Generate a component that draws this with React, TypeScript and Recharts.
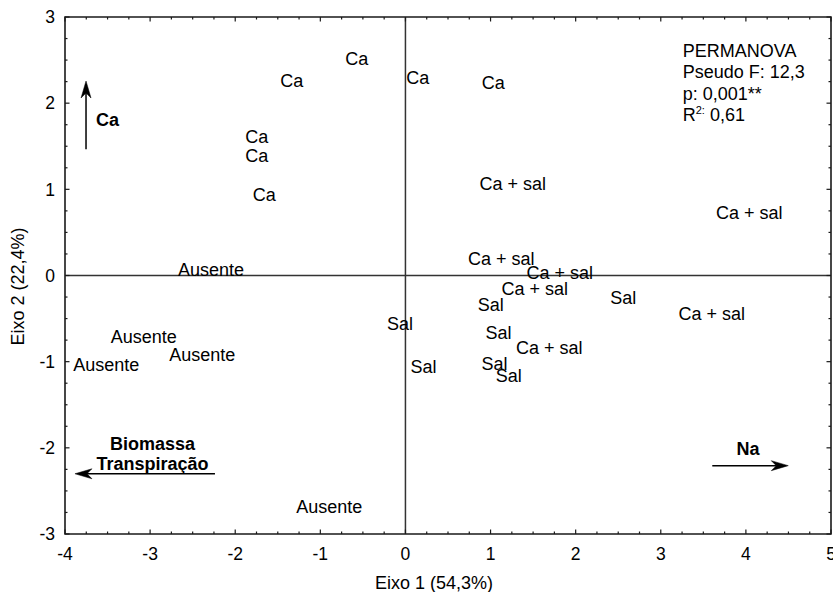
import React from 'react';
import { ScatterChart, Scatter, XAxis, YAxis, ReferenceLine, ReferenceArea } from 'recharts';

const FONT = '"Liberation Sans", Arial, Helvetica, sans-serif';
const W = 833;
const H = 592;
const PLOT_LEFT = 65;
const PLOT_TOP = 17;
const PLOT_RIGHT_GAP = 2;
const PLOT_BOTTOM_GAP = 58;
const PLOT_W = W - PLOT_LEFT - PLOT_RIGHT_GAP;
const PLOT_H = H - PLOT_TOP - PLOT_BOTTOM_GAP;

// Sample scores (Eixo 1, Eixo 2)
const caPoints = [
  { x: -0.573, y: 2.513 },
  { x: -1.336, y: 2.257 },
  { x: 0.144, y: 2.292 },
  { x: 1.032, y: 2.242 },
  { x: -1.748, y: 1.616 },
  { x: -1.748, y: 1.395 },
  { x: -1.658, y: 0.942 },
];
const caSalPoints = [
  { x: 1.261, y: 1.07 },
  { x: 4.039, y: 0.731 },
  { x: 1.126, y: 0.197 },
  { x: 1.813, y: 0.029 },
  { x: 1.519, y: -0.154 },
  { x: 3.598, y: -0.439 },
  { x: 1.689, y: -0.839 },
];
const salPoints = [
  { x: 1.003, y: -0.339 },
  { x: 2.559, y: -0.261 },
  { x: -0.064, y: -0.555 },
  { x: 1.093, y: -0.667 },
  { x: 0.212, y: -1.058 },
  { x: 1.046, y: -1.025 },
  { x: 1.214, y: -1.16 },
];
const ausentePoints = [
  { x: -2.285, y: 0.072 },
  { x: -3.075, y: -0.706 },
  { x: -2.388, y: -0.923 },
  { x: -3.515, y: -1.039 },
  { x: -0.895, y: -2.678 },
];

// Vectors (arrows) and their labels
const vectorSegments = [
  { name: 'Ca', x1: -3.753, y1: 1.465, x2: -3.753, y2: 2.257 },
  { name: 'Biomassa', x1: -2.238, y1: -2.301, x2: -3.883, y2: -2.301 },
  { name: 'Na', x1: 3.605, y1: -2.207, x2: 4.498, y2: -2.207 },
];
const vectorLabels = [
  { x: -3.501, y: 1.808, label: 'Ca' },
  { x: -2.972, y: -1.947, label: 'Biomassa' },
  { x: -2.972, y: -2.179, label: 'Transpiração' },
  { x: 4.025, y: -2.005, label: 'Na' },
];

// PERMANOVA annotation
const statsAnchor = [{ x: 3.258, y: 2.617 }];
const statsLines = ['PERMANOVA', 'Pseudo F: 12,3', 'p: 0,001**'];
const r2Value = '0,61';

const xAxisTitle = 'Eixo 1 (54,3%)';
const yAxisTitle = 'Eixo 2 (22,4%)';

const xTicks: number[] = [];
for (let i = -16; i <= 20; i++) xTicks.push(i / 4);
const yTicks: number[] = [];
for (let i = -12; i <= 12; i++) yTicks.push(i / 4);

const AXIS_COLOR = '#1a1a1a';
const LABEL_SIZE = 18;
const TICK_SIZE = 17.5;

const XTick = (props: any) => {
  const { x, y, payload, index } = props;
  const v = payload.value as number;
  const major = Number.isInteger(v);
  const len = major ? 4.5 : 2.5;
  return (
    <g>
      <line x1={x} y1={y} x2={x} y2={y - len} stroke={AXIS_COLOR} strokeWidth={1.2} />
      <line x1={x} y1={y - PLOT_H} x2={x} y2={y - PLOT_H + len} stroke={AXIS_COLOR} strokeWidth={1.2} />
      {major && (
        <text x={x} y={y + 20} dy="0.355em" textAnchor="middle" fontFamily={FONT} fontSize={TICK_SIZE} fill="#000">
          {String(v)}
        </text>
      )}
      {index === 0 && (
        <text
          x={x + PLOT_W / 2 - 14}
          y={y + 49}
          dy="0.355em"
          textAnchor="middle"
          fontFamily={FONT}
          fontSize={LABEL_SIZE}
          fill="#000"
        >
          {xAxisTitle}
        </text>
      )}
    </g>
  );
};

const YTick = (props: any) => {
  const { x, y, payload, index } = props;
  const v = payload.value as number;
  const major = Number.isInteger(v);
  const len = major ? 4.5 : 2.5;
  const cx = x - 47.5;
  const cy = y - PLOT_H / 2 + 11;
  return (
    <g>
      <line x1={x} y1={y} x2={x + len} y2={y} stroke={AXIS_COLOR} strokeWidth={1.2} />
      <line x1={x + PLOT_W} y1={y} x2={x + PLOT_W - len} y2={y} stroke={AXIS_COLOR} strokeWidth={1.2} />
      {major && (
        <text x={x - 10} y={y} dy="0.355em" textAnchor="end" fontFamily={FONT} fontSize={TICK_SIZE} fill="#000">
          {String(v)}
        </text>
      )}
      {index === 0 && (
        <text
          x={cx}
          y={cy}
          dy="0.355em"
          textAnchor="middle"
          transform={`rotate(-90 ${cx} ${cy})`}
          fontFamily={FONT}
          fontSize={LABEL_SIZE}
          fill="#000"
        >
          {yAxisTitle}
        </text>
      )}
    </g>
  );
};

const makeTextShape = (text: string) => (props: any) => (
  <text
    x={props.cx}
    y={props.cy}
    dy="0.355em"
    textAnchor="middle"
    fontFamily={FONT}
    fontSize={LABEL_SIZE}
    fill="#000"
  >
    {text}
  </text>
);

const vectorLabelShape = (props: any) => (
  <text
    x={props.cx}
    y={props.cy}
    dy="0.355em"
    textAnchor="middle"
    fontFamily={FONT}
    fontSize={LABEL_SIZE}
    fontWeight="bold"
    fill="#000"
  >
    {props.payload?.label}
  </text>
);

const statsShape = (props: any) => {
  const x = props.cx;
  const y0 = props.cy + 6.5;
  const step = 21.5;
  return (
    <g fontFamily={FONT} fontSize={LABEL_SIZE} fill="#000">
      {statsLines.map((s, i) => (
        <text key={i} x={x} y={y0 + i * step}>
          {s}
        </text>
      ))}
      <text x={x} y={y0 + 3 * step}>
        R
        <tspan fontSize={11} dy={-7}>
          2:
        </tspan>
        <tspan dy={7}> {r2Value}</tspan>
      </text>
    </g>
  );
};

const arrowShape = (props: any) => {
  const { x1, y1, x2, y2 } = props;
  if ([x1, y1, x2, y2].some((v) => typeof v !== 'number' || isNaN(v))) return <g />;
  const dx = x2 - x1;
  const dy = y2 - y1;
  const L = Math.sqrt(dx * dx + dy * dy) || 1;
  const ux = dx / L;
  const uy = dy / L;
  const px = -uy;
  const py = ux;
  const headLen = 17;
  const halfW = 5;
  const notch = 12;
  const bx = x2 - ux * headLen;
  const by = y2 - uy * headLen;
  const nx = x2 - ux * notch;
  const ny = y2 - uy * notch;
  const pts = [
    [x2, y2],
    [bx + px * halfW, by + py * halfW],
    [nx, ny],
    [bx - px * halfW, by - py * halfW],
  ]
    .map((p) => p.join(','))
    .join(' ');
  return (
    <g>
      <line x1={x1} y1={y1} x2={nx} y2={ny} stroke="#000" strokeWidth={1.5} />
      <polygon points={pts} fill="#000" stroke="#000" strokeWidth={0.5} />
    </g>
  );
};

export default function App() {
  return (
    <div style={{ position: 'absolute', left: 0, top: 0, background: '#fff' }}>
      <ScatterChart width={W} height={H} margin={{ top: PLOT_TOP, right: PLOT_RIGHT_GAP, bottom: 0, left: 0 }}>
        <XAxis
          type="number"
          dataKey="x"
          domain={[-4, 5]}
          ticks={xTicks}
          interval={0}
          height={PLOT_BOTTOM_GAP}
          tickSize={0}
          tickMargin={0}
          axisLine={false}
          tickLine={false}
          tick={XTick}
        />
        <YAxis
          type="number"
          dataKey="y"
          domain={[-3, 3]}
          ticks={yTicks}
          interval={0}
          width={PLOT_LEFT}
          tickSize={0}
          tickMargin={0}
          axisLine={false}
          tickLine={false}
          tick={YTick}
        />
        <ReferenceArea x1={-4} x2={5} y1={-3} y2={3} fill="none" fillOpacity={0} stroke={AXIS_COLOR} strokeWidth={1.6} />
        <ReferenceLine x={0} stroke="#333" strokeWidth={1.5} />
        <ReferenceLine y={0} stroke="#333" strokeWidth={1.5} />
        {vectorSegments.map((v) => (
          <ReferenceLine
            key={v.name}
            segment={[
              { x: v.x1, y: v.y1 },
              { x: v.x2, y: v.y2 },
            ]}
            stroke="#000"
            shape={arrowShape}
          />
        ))}
        <Scatter name="Ca" data={caPoints} shape={makeTextShape('Ca')} isAnimationActive={false} />
        <Scatter name="Ca + sal" data={caSalPoints} shape={makeTextShape('Ca + sal')} isAnimationActive={false} />
        <Scatter name="Sal" data={salPoints} shape={makeTextShape('Sal')} isAnimationActive={false} />
        <Scatter name="Ausente" data={ausentePoints} shape={makeTextShape('Ausente')} isAnimationActive={false} />
        <Scatter name="vectors" data={vectorLabels} shape={vectorLabelShape} isAnimationActive={false} />
        <Scatter name="stats" data={statsAnchor} shape={statsShape} isAnimationActive={false} />
      </ScatterChart>
    </div>
  );
}
